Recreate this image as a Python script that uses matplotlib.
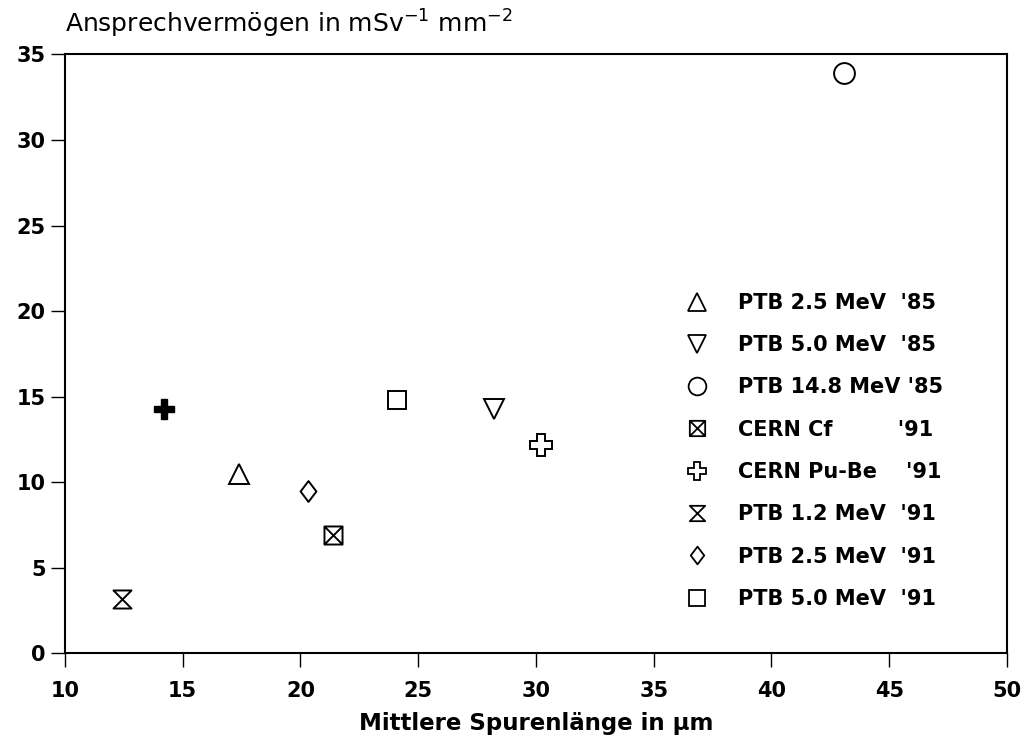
import matplotlib
matplotlib.use("Agg")
import matplotlib.pyplot as plt
from matplotlib.path import Path
from matplotlib.lines import Line2D

plt.rcParams['font.family'] = ['DejaVu Sans']
plt.rcParams['mathtext.fontset'] = 'dejavusans'

# Mean track length (µm) and response (mSv^-1 mm^-2) per irradiation
labels = ["PTB 2.5 MeV  '85", "PTB 5.0 MeV  '85", "PTB 14.8 MeV '85",
          "CERN Cf         '91", "CERN Pu-Be    '91", "PTB 1.2 MeV  '91",
          "PTB 2.5 MeV  '91", "PTB 5.0 MeV  '91"]
track_len = [17.4, 28.2, 43.1, 21.4, 30.2, 12.4, 20.3, 24.1]
response = [10.5, 14.3, 33.9, 6.9, 12.2, 3.2, 9.5, 14.8]

# Additional point without legend entry
extra_len = [14.2]
extra_resp = [14.3]

x_ticks = [10, 15, 20, 25, 30, 35, 40, 45, 50]
y_ticks = [0, 5, 10, 15, 20, 25, 30, 35]

# Custom marker shapes
boxed_x = Path([(-1, -1), (1, -1), (1, 1), (-1, 1), (-1, -1),
                (-1, -1), (1, 1), (-1, 1), (1, -1)],
               [Path.MOVETO, Path.LINETO, Path.LINETO, Path.LINETO, Path.CLOSEPOLY,
                Path.MOVETO, Path.LINETO, Path.MOVETO, Path.LINETO])
hourglass = Path([(-1, 1), (1, 1), (-1, -1), (1, -1), (-1, 1)],
                 [Path.MOVETO, Path.LINETO, Path.LINETO, Path.LINETO, Path.CLOSEPOLY])
diamond = Path([(0, 1), (0.76, 0), (0, -1), (-0.76, 0), (0, 1)],
               [Path.MOVETO, Path.LINETO, Path.LINETO, Path.LINETO, Path.CLOSEPOLY])

styles = [
    dict(marker='^', ms=15),
    dict(marker='v', ms=15),
    dict(marker='o', ms=15),
    dict(marker=boxed_x, ms=13),
    dict(marker='P', ms=16),
    dict(marker=hourglass, ms=13),
    dict(marker=diamond, ms=15),
    dict(marker='s', ms=13),
]

fig = plt.figure(figsize=(10.25, 7.4), dpi=100)
ax = fig.add_axes([0.0634, 0.117, 0.919, 0.8095])

for xv, yv, lab, st in zip(track_len, response, labels, styles):
    ax.plot([xv], [yv], linestyle='none', marker=st['marker'], ms=st['ms'],
            mfc='white', mec='black', mew=1.4, label=lab)

ax.plot(extra_len, extra_resp, linestyle='none', marker='P', ms=15,
        mfc='black', mec='black', mew=1.0)

ax.set_xlim(10, 50)
ax.set_ylim(0, 35)
ax.set_xticks(x_ticks)
ax.set_yticks(y_ticks)
ax.tick_params(axis='both', which='major', direction='out', length=10, width=1.0,
               labelsize=15, top=False, right=False)
ax.tick_params(axis='x', pad=10)
ax.tick_params(axis='y', pad=4)
for lbl in ax.get_xticklabels() + ax.get_yticklabels():
    lbl.set_fontweight('bold')
for sp in ax.spines.values():
    sp.set_linewidth(1.5)

ax.set_xlabel('Mittlere Spurenlänge in µm', fontsize=16.5, fontweight='bold', labelpad=8)

fig.text(0.063, 1 - 33 / 740, 'Ansprechvermögen in mSv$^{-1}$ mm$^{-2}$',
         fontsize=18, ha='left', va='baseline')

leg_handles = [Line2D([], [], linestyle='none', marker=st['marker'],
                      ms=st['ms'] * 0.85, mfc='white', mec='black', mew=1.3)
               for st in styles]
ax.legend(leg_handles, labels, loc='upper left', bbox_to_anchor=(0.66, 0.602),
          frameon=False, prop={'size': 15, 'weight': 'bold'}, handlelength=1.0,
          handletextpad=1.47, labelspacing=1.07, borderpad=0, borderaxespad=0)

fig.savefig('out.png', dpi=100)
